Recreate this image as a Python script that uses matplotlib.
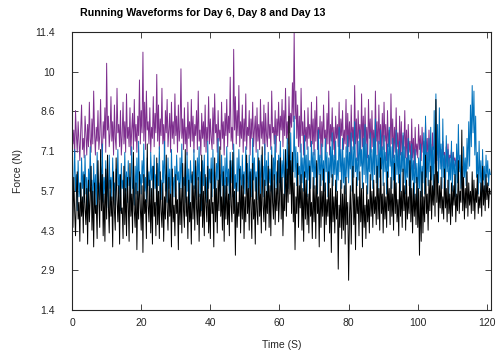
import numpy as np
import matplotlib
matplotlib.use("Agg")
import matplotlib.pyplot as plt

plt.rcParams['font.family'] = ['Liberation Sans', 'DejaVu Sans']

dt = 0.25  # sample spacing (s)

# Day 6 (purple), 0 - 112 s
day6 = [
    8.3, 7.4, 7.9, 6.9, 8.6, 7.7, 7.1, 8.2, 7.5, 6.8, 7.9, 8.8, 7.2, 7.6, 6.9, 8.4, 7.8, 7.0, 8.1, 7.3,
    8.9, 7.6, 7.1, 8.3, 7.4, 9.3, 7.8, 7.0, 8.0, 7.5, 8.6, 7.2, 7.7, 9.0, 7.4, 6.9, 8.2, 7.6, 8.7, 7.1,
    10.3, 7.9, 8.4, 7.3, 7.8, 9.1, 7.5, 8.2, 7.0, 8.8, 7.6, 7.2, 9.4, 7.8, 8.1, 7.3, 8.6, 7.0, 7.7, 8.9,
    7.4, 8.2, 7.1, 9.2, 7.6, 8.0, 7.3, 8.7, 7.0, 7.9, 8.5, 7.2, 9.0, 7.5, 8.1, 7.1, 8.4, 7.7, 9.7, 7.4,
    8.6, 7.8, 10.7, 7.5, 8.9, 7.2, 9.3, 7.9, 8.2, 7.4, 8.7, 7.1, 8.0, 7.6, 9.1, 7.3, 8.5, 7.8, 9.9, 7.5,
    8.8, 7.2, 8.3, 7.7, 9.4, 7.4, 8.1, 7.0, 8.6, 7.8, 9.0, 7.3, 7.9, 8.5, 7.1, 8.9, 7.6, 8.2, 7.4, 9.2,
    7.7, 8.4, 7.1, 8.8, 7.5, 7.9, 10.1, 7.6, 8.3, 7.2, 8.7, 7.4, 8.0, 7.0, 8.9, 7.6, 8.2, 7.3, 9.0, 7.5,
    8.4, 7.1, 8.1, 7.7, 8.6, 7.2, 9.3, 7.5, 7.9, 7.0, 8.5, 7.6, 8.2, 7.3, 8.8, 7.1, 8.0, 7.5, 9.1, 7.4,
    8.3, 7.6, 7.2, 8.7, 7.4, 9.2, 7.8, 8.1, 7.1, 8.6, 7.5, 7.9, 7.2, 8.9, 7.6, 8.2, 7.0, 8.5, 7.7, 9.0,
    7.3, 8.4, 7.8, 9.8, 7.5, 8.0, 7.2, 10.8, 7.9, 9.1, 7.4, 8.6, 7.7, 9.5, 7.3, 8.2, 7.6, 8.8, 7.1, 8.3,
    7.5, 9.2, 7.2, 8.0, 7.7, 8.6, 7.0, 8.3, 7.6, 8.9, 7.3, 7.9, 8.4, 7.1, 8.7, 7.5, 8.1, 7.2, 9.0, 7.6,
    8.2, 7.4, 8.8, 7.0, 8.5, 7.7, 7.3, 8.9, 7.6, 8.1, 7.2, 9.3, 7.8, 8.0, 7.4, 8.6, 7.1, 8.3, 7.7, 8.9,
    7.5, 8.4, 7.9, 9.0, 7.3, 8.6, 7.7, 9.4, 7.6, 8.2, 7.4, 9.1, 7.8, 8.5, 8.0, 9.6, 8.2, 11.4, 8.3, 9.3,
    7.6, 8.8, 7.3, 8.4, 7.1, 9.4, 7.7, 8.2, 7.0, 8.6, 7.5, 8.0, 7.2, 8.7, 7.6, 8.1, 7.3, 8.9, 7.4, 8.3,
    7.0, 8.6, 7.5, 9.1, 7.2, 8.0, 7.6, 8.4, 6.9, 8.2, 7.3, 8.8, 7.6, 7.9, 7.1, 8.5, 7.4, 9.3, 7.0, 8.1,
    7.5, 8.7, 7.2, 8.0, 6.9, 8.4, 7.6, 8.1, 7.3, 8.9, 7.0, 8.3, 7.7, 8.6, 7.2, 7.9, 7.4, 9.0, 7.1, 8.5,
    7.3, 8.2, 6.9, 8.8, 7.5, 8.0, 7.2, 9.5, 7.4, 8.3, 6.8, 8.6, 7.6, 8.1, 7.0, 9.2, 7.3, 8.4, 7.1, 8.7,
    7.4, 8.0, 6.9, 9.0, 7.6, 8.3, 7.1, 8.6, 7.3, 7.9, 6.8, 9.3, 7.5, 8.2, 7.0, 8.8, 7.4, 8.1, 6.9, 8.5,
    7.2, 8.9, 7.5, 8.1, 6.8, 8.6, 7.3, 7.9, 7.0, 9.2, 7.4, 8.3, 6.9, 8.0, 7.1, 8.7, 7.3, 7.8, 6.7, 8.4,
    7.0, 8.2, 6.8, 7.7, 7.2, 8.6, 6.9, 7.9, 6.6, 8.1, 7.1, 7.5, 6.7, 8.3, 6.9, 7.6, 6.5, 8.0, 7.0, 7.4,
    6.9, 8.1, 7.2, 7.7, 6.8, 8.0, 7.1, 7.5, 6.7, 8.2, 7.0, 7.6, 6.8, 7.9, 7.0, 7.4, 6.6, 7.8, 7.2, 7.3,
    6.7, 7.7, 7.0, 7.4, 6.5, 7.6, 6.9, 7.2, 6.6, 7.5, 7.0, 7.1, 6.4, 7.3, 6.8, 7.4, 6.6, 7.0, 6.9, 7.2,
    6.5, 7.1, 6.8, 6.9, 6.6, 7.0, 6.7, 6.8,
]

# Day 8 (blue), 0 - 121 s
day8 = [
    6.6, 5.4, 6.1, 7.2, 5.7, 6.3, 5.0, 6.8, 5.5, 6.0, 5.2, 6.9, 5.8, 6.4, 5.3, 7.0, 5.6, 6.2, 4.9, 6.5,
    5.7, 7.3, 5.9, 6.1, 5.2, 6.7, 5.5, 6.3, 5.0, 7.1, 5.8, 6.0, 5.4, 6.6, 5.9, 7.4, 5.3, 6.2, 5.6, 6.8,
    5.5, 6.4, 5.1, 7.0, 5.8, 6.2, 5.4, 6.9, 5.7, 6.0, 5.2, 6.5, 5.9, 7.2, 5.6, 6.3, 5.0, 6.7, 5.8, 6.1,
    5.4, 7.1, 5.7, 6.4, 5.3, 6.8, 5.9, 6.2, 5.5, 7.3, 5.8, 6.0, 5.2, 6.6, 5.6, 6.9, 5.4, 7.5, 5.9, 6.3,
    5.6, 6.8, 6.0, 7.4, 5.7, 6.2, 5.3, 6.9, 5.9, 6.4, 5.5, 7.1, 6.1, 6.6, 5.4, 7.0, 5.8, 6.3, 5.2, 6.7,
    5.9, 7.3, 5.6, 6.1, 5.4, 6.8, 6.0, 7.5, 5.7, 6.3, 5.3, 6.9, 5.8, 6.5, 5.1, 7.2, 5.9, 6.2, 5.5, 6.6,
    5.7, 7.0, 6.1, 6.4, 5.4, 6.9, 5.8, 7.4, 5.5, 6.2, 5.9, 6.7, 5.3, 7.1, 5.7, 6.5, 5.2, 6.8, 6.0, 6.3,
    5.6, 7.2, 5.8, 6.6, 5.4, 6.9, 6.1, 7.3, 5.5, 6.4, 5.0, 6.8, 5.9, 7.0, 5.6, 6.2, 5.3, 7.5, 5.8, 6.5,
    6.0, 6.9, 5.5, 7.2, 5.8, 6.4, 5.3, 6.7, 6.1, 7.6, 5.7, 6.3, 5.4, 7.0, 5.9, 6.6, 5.2, 6.9, 5.6, 7.3,
    5.9, 6.5, 5.4, 7.1, 6.0, 6.8, 5.5, 7.4, 5.8, 6.3, 5.1, 6.9, 5.7, 7.2, 6.1, 6.6, 5.4, 7.0, 5.8, 6.4,
    5.6, 7.3, 6.0, 6.7, 5.3, 7.0, 5.8, 6.5, 5.5, 7.6, 6.1, 6.9, 5.7, 6.4, 5.4, 7.2, 5.9, 6.8, 5.6, 7.0,
    6.2, 6.6, 5.5, 7.4, 5.9, 6.8, 5.3, 7.1, 6.0, 6.5, 5.7, 7.3, 5.4, 6.9, 6.1, 7.7, 5.8, 6.4, 5.6, 7.0,
    6.0, 7.5, 5.7, 6.8, 6.2, 7.2, 5.5, 6.9, 6.1, 7.6, 5.8, 7.0, 6.3, 7.8, 6.0, 6.7, 6.4, 8.4, 6.2, 7.3,
    5.9, 7.1, 6.3, 6.6, 5.6, 7.4, 6.0, 6.9, 5.7, 7.7, 6.2, 7.0, 5.5, 7.3, 6.1, 6.8, 5.8, 7.5, 6.4, 7.1,
    5.8, 7.2, 6.2, 6.7, 5.6, 7.9, 6.3, 7.0, 5.9, 7.4, 6.1, 6.8, 5.7, 7.6, 6.4, 7.1, 5.5, 6.9, 6.0, 7.3,
    6.2, 7.8, 5.9, 7.0, 6.3, 7.5, 5.7, 6.8, 6.1, 8.0, 6.4, 7.2, 5.8, 7.6, 6.0, 6.9, 5.6, 7.3, 6.2, 7.7,
    6.0, 7.1, 6.5, 7.8, 5.7, 7.3, 6.2, 8.2, 6.4, 6.9, 5.9, 7.5, 6.1, 7.9, 6.6, 7.2, 5.8, 7.6, 6.3, 8.1,
    6.0, 7.4, 5.6, 7.0, 6.4, 7.8, 6.1, 7.2, 5.8, 7.6, 6.3, 8.3, 6.0, 7.0, 5.7, 7.5, 6.2, 7.9, 6.5, 7.3,
    5.9, 7.7, 6.4, 7.1, 5.6, 7.4, 6.2, 8.0, 6.6, 7.3, 5.8, 7.6, 6.1, 7.0, 5.5, 7.9, 6.3, 7.2, 6.0, 7.5,
    5.7, 7.1, 6.4, 7.8, 6.0, 7.3, 5.6, 6.9, 6.2, 7.6, 5.9, 7.0, 5.5, 7.4, 6.1, 6.8, 5.4, 7.2, 6.0, 6.7,
    5.3, 6.9, 5.8, 7.4, 5.5, 6.6, 6.0, 7.8, 5.6, 8.4, 6.2, 7.1, 5.9, 7.6, 6.4, 8.0, 6.1, 7.3, 5.7, 8.6,
    6.3, 9.2, 6.8, 8.1, 6.0, 8.7, 6.5, 7.4, 5.8, 8.3, 6.2, 7.0, 5.6, 7.7, 6.4, 7.2, 5.5, 6.9, 6.1, 7.5,
    5.7, 7.1, 6.3, 6.8, 5.5, 7.4, 6.0, 8.1, 6.4, 7.0, 5.8, 6.6, 5.4, 7.3, 6.2, 6.9, 5.9, 7.6, 6.5, 8.2,
    6.6, 8.8, 7.3, 9.5, 7.8, 9.3, 7.0, 8.4, 6.2, 7.1, 5.6, 7.5, 6.0, 6.8, 5.5, 7.2, 6.1, 6.6, 5.7, 7.0,
    6.2, 6.8, 5.9, 6.5, 6.3,
]

# Day 13 (black), 0 - 121 s
day13 = [
    5.9, 4.4, 6.2, 5.0, 4.1, 5.6, 6.4, 4.7, 5.3, 3.9, 6.0, 4.8, 5.5, 4.2, 6.3, 5.1, 4.5, 5.8, 3.8, 6.1,
    4.6, 5.4, 6.6, 4.3, 5.7, 3.7, 6.0, 4.9, 5.2, 4.0, 6.8, 5.3, 4.4, 7.2, 5.0, 6.3, 4.1, 5.6, 3.9, 6.5,
    4.7, 7.0, 5.2, 4.2, 6.1, 4.8, 5.5, 3.7, 6.4, 5.0, 4.3, 6.9, 5.4, 4.6, 5.9, 3.8, 6.3, 4.9, 5.1, 4.0,
    6.6, 4.5, 5.8, 4.1, 6.2, 5.3, 3.9, 6.7, 4.8, 5.6, 4.2, 7.1, 5.0, 4.4, 6.0, 3.6, 5.7, 4.7, 6.4, 5.1,
    4.3, 5.9, 3.5, 6.3, 4.9, 5.4, 4.0, 7.4, 5.2, 4.6, 6.1, 4.2, 5.8, 3.8, 6.6, 4.8, 5.3, 4.1, 6.9, 4.5,
    5.7, 4.0, 6.4, 5.0, 4.4, 6.0, 3.9, 5.5, 4.7, 7.0, 5.1, 4.3, 6.2, 4.8, 5.6, 3.7, 6.5, 4.6, 5.2, 4.1,
    6.3, 4.9, 5.4, 3.6, 6.0, 4.5, 5.8, 4.2, 6.7, 5.0, 4.4, 7.2, 4.8, 5.5, 4.0, 6.1, 4.6, 5.3, 3.8, 6.4,
    4.7, 5.9, 4.3, 6.8, 5.1, 4.5, 6.2, 3.9, 5.6, 4.8, 7.0, 4.4, 5.7, 4.1, 6.3, 5.2, 4.6, 6.6, 4.2, 5.4,
    4.0, 6.5, 4.9, 5.3, 3.7, 6.9, 4.6, 5.8, 4.2, 6.1, 5.0, 7.3, 4.8, 5.5, 4.3, 6.4, 3.9, 5.9, 4.7, 6.2,
    4.5, 5.6, 4.1, 6.8, 5.2, 4.6, 7.1, 4.9, 5.7, 3.4, 6.0, 4.4, 5.3, 4.8, 6.5, 4.2, 5.9, 4.7, 6.3, 4.0,
    5.5, 4.6, 7.0, 4.9, 5.8, 4.3, 6.4, 5.1, 4.0, 6.7, 4.7, 5.4, 3.8, 6.2, 5.0, 4.5, 6.9, 4.8, 5.6, 4.2,
    7.3, 5.2, 4.6, 6.1, 4.3, 5.7, 4.9, 6.6, 4.4, 5.9, 4.1, 7.0, 5.3, 4.7, 6.3, 4.5, 5.8, 5.0, 6.8, 4.6,
    5.4, 6.9, 4.7, 6.2, 4.1, 5.6, 5.0, 7.2, 4.8, 6.5, 5.3, 8.4, 5.6, 6.8, 4.9, 7.1, 4.6, 6.0, 3.6, 5.5,
    4.9, 6.7, 4.4, 5.9, 5.1, 6.3, 4.3, 5.8, 3.9, 6.4, 4.7, 6.1, 4.5, 5.6, 4.2, 6.6, 4.8, 5.3, 4.0, 6.2,
    4.6, 5.9, 4.0, 6.8, 4.9, 5.5, 3.7, 6.3, 4.4, 5.7, 4.8, 6.5, 3.9, 6.0, 4.5, 5.4, 4.8, 6.4, 4.2, 5.8,
    3.5, 6.3, 4.6, 5.5, 4.2, 6.1, 4.7, 5.7, 2.9, 5.2, 4.4, 6.1, 4.0, 5.6, 4.3, 5.9, 3.8, 6.2, 4.5, 5.3,
    2.5, 4.8, 5.9, 3.8, 5.4, 6.6, 4.5, 5.6, 3.6, 6.2, 4.9, 5.5, 4.1, 6.4, 4.6, 5.8, 3.7, 6.0, 4.4, 5.2,
    4.0, 5.9, 4.6, 5.4, 4.2, 6.3, 4.8, 5.7, 4.4, 6.1, 4.9, 5.5, 4.5, 6.6, 4.7, 5.8, 4.3, 6.9, 4.9, 5.6,
    4.2, 6.0, 4.7, 5.5, 4.4, 6.4, 5.0, 5.8, 4.5, 6.2, 4.8, 5.6, 4.3, 6.7, 4.9, 6.0, 4.6, 5.4, 4.1, 6.3,
    4.8, 5.7, 4.4, 6.5, 5.0, 5.9, 4.3, 6.1, 4.7, 5.5, 4.9, 6.8, 4.6, 5.8, 4.2, 6.0, 4.8, 5.6, 4.5, 6.2,
    4.4, 5.8, 3.4, 5.7, 3.9, 6.4, 4.2, 5.5, 4.6, 7.0, 4.9, 5.6, 4.3, 6.1, 5.0, 6.6, 4.7, 5.9, 5.2, 6.3,
    4.8, 9.0, 5.3, 6.4, 4.6, 5.9, 5.1, 6.2, 4.9, 5.5, 4.7, 6.5, 5.1, 5.8, 4.6, 6.1, 4.9, 5.6, 4.5, 6.0,
    4.8, 5.9, 5.2, 6.3, 4.6, 5.6, 5.0, 6.8, 4.9, 5.7, 5.3, 7.9, 5.0, 6.2, 4.7, 5.8, 5.1, 6.4, 4.8, 6.0,
    5.2, 5.7, 4.9, 6.4, 5.0, 6.1, 4.7, 5.8, 5.3, 6.3, 4.9, 5.5, 5.1, 6.0, 4.8, 6.6, 5.2, 5.9, 5.0, 6.3,
    5.4, 6.0, 5.1, 5.8, 5.6,
]

yticks = [10 / 7 * k for k in range(1, 9)]
ytick_labels = ['1.4', '2.9', '4.3', '5.7', '7.1', '8.6', '10', '11.4']
xticks = [0, 20, 40, 60, 80, 100, 120]

fig = plt.figure(figsize=(4.97, 3.54), dpi=100)
ax = fig.add_axes([0.145, 0.124, 0.843, 0.786])

ax.plot(np.arange(len(day6)) * dt, day6, color='#7E2F8E', lw=0.7)
ax.plot(np.arange(len(day8)) * dt, day8, color='#0072BD', lw=0.7)
ax.plot(np.arange(len(day13)) * dt, day13, color='black', lw=0.7)

ax.set_xlim(0, 121.2)
ax.set_ylim(10 / 7, 80 / 7)
ax.set_xticks(xticks)
ax.set_yticks(yticks)
ax.set_yticklabels(ytick_labels)

for s in ax.spines.values():
    s.set_color('#262626')
    s.set_linewidth(0.8)
ax.tick_params(direction='in', length=4, width=0.6, color='#262626',
               top=True, right=True, labelsize=7.5, labelcolor='#262626')
ax.tick_params(axis='y', pad=12.5)
ax.tick_params(axis='x', pad=6)

ax.set_xlabel('Time (S)', fontsize=7.5, color='#262626', labelpad=8)
ax.set_ylabel('Force (N)', fontsize=7.5, color='#262626', labelpad=9)
fig.text(80 / 497, 1 - 13 / 354, 'Running Waveforms for Day 6, Day 8 and Day 13',
         fontsize=7.7, fontweight='bold', ha='left', va='center')

fig.savefig('out.png', dpi=100)
